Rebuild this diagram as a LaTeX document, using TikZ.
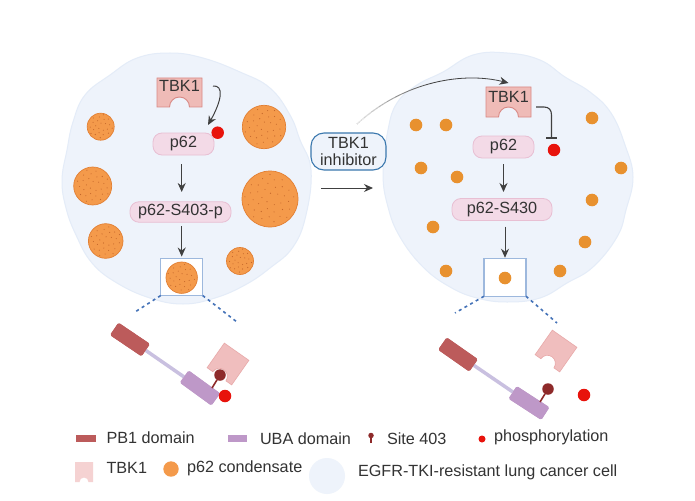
\documentclass[tikz,border=0pt]{standalone}
\usepackage{fontspec}
\setmainfont{Liberation Sans}
\usetikzlibrary{arrows.meta,calc}
\definecolor{cellfill}{HTML}{EEF3FB}
\definecolor{celledge}{HTML}{E4ECF8}
\definecolor{pillfill}{HTML}{F3DAE7}
\definecolor{pilledge}{HTML}{E8BFD3}
\definecolor{kinfill}{HTML}{EFBBB7}
\definecolor{kinedge}{HTML}{D98A86}
\definecolor{kinpale}{HTML}{F0BEBE}
\definecolor{kinpaleedge}{HTML}{E8A9A9}
\definecolor{pbone}{HTML}{BC5B5B}
\definecolor{uba}{HTML}{BE98C8}
\definecolor{linker}{HTML}{C9C0E0}
\definecolor{condfill}{HTML}{F49A4B}
\definecolor{condedge}{HTML}{E27F33}
\definecolor{conddot}{HTML}{C4662A}
\definecolor{smallcond}{HTML}{E8912F}
\definecolor{boxedge}{HTML}{9DB8DD}
\definecolor{dashblue}{HTML}{4472B8}
\definecolor{inhedge}{HTML}{3B78AE}
\definecolor{reddot}{HTML}{E8130C}
\definecolor{site}{HTML}{8E2A2A}
\definecolor{ink}{HTML}{333333}
\definecolor{flow}{HTML}{404040}
\tikzset{
  x=1pt,y=-1pt,
  every node/.style={inner sep=0pt,outer sep=0pt,text=ink},
  txt/.style={font=\fontsize{16.2}{17.5}\selectfont},
  cellbody/.style={fill=cellfill,draw=celledge,line width=1pt},
  pill/.style={txt,rectangle,rounded corners=9pt,fill=pillfill,draw=pilledge,line width=.8pt},
  zoombox/.style={rectangle,fill=white,draw=boxedge,line width=1.1pt,minimum width=42pt,minimum height=37.5pt},
  flowarrow/.style={draw=flow,line width=1pt,-{Stealth[length=9pt,width=8pt]}},
  zoomline/.style={dashblue,line width=1.6pt,dash pattern=on 3pt off 3.5pt},
  kinase/.style={fill=kinfill,draw=kinedge,line width=.9pt},
  paleKinase/.style={fill=kinpale,draw=kinpaleedge,line width=.6pt},
  pbdomain/.style={rectangle,rounded corners=1.5pt,fill=pbone,minimum width=38pt,minimum height=15pt},
  ubdomain/.style={rectangle,rounded corners=1.5pt,fill=uba,minimum width=39pt,minimum height=15pt},
  linkerline/.style={linker,line width=3.5pt},
  stick/.style={site,line width=1.6pt},
  sitehead/.style={circle,fill=site,minimum size=11.5pt},
  phospho/.style={circle,fill=reddot,minimum size=12.5pt},
  tinycond/.style={circle,fill=smallcond,minimum size=12.6pt},
  bigcond/.style={circle,fill=condfill,draw=condedge,line width=.7pt},
  declare function={
    bx(\t)=(1-\t)^3*357+3*(1-\t)^2*\t*405+3*(1-\t)*\t^2*465+\t^3*510;
    by(\t)=(1-\t)^3*124+3*(1-\t)^2*\t*80+3*(1-\t)*\t^2*72+\t^3*83;
  }
}
% kinase outline centred on the origin: width, height, notch radius
\newcommand{\kinasepath}[3]{%
  (-#1/2,-#2/2) -- (#1/2,-#2/2) -- (#1/2,#2/2) -- (#3+1,#2/2)
  arc[start angle=0,end angle=-180,radius=#3+1] -- (-#1/2,#2/2) -- cycle}
% stippled condensate droplet: name, x, y, radius
\newcommand{\droplet}[4]{%
  \node[bigcond,minimum size=#4*2pt] (#1) at (#2,#3) {};
  \pgfmathtruncatemacro{\ndots}{#4+10}
  \foreach \i in {1,...,\ndots}{
    \fill[conddot] ($(#1)+({137.5*\i}:{0.9*#4*sqrt(\i/\ndots)})$) circle[radius=.55];
  }}
\begin{document}
\begin{tikzpicture}
\useasboundingbox (0,0) rectangle (695,500);
\fill[white] (0,0) rectangle (695,500);

% cell outlines
\draw[cellbody] plot[smooth cycle,tension=.7] coordinates {
  (137,58) (170,53) (203,58) (240,72) (270,88) (290,115) (300,140) (311,170)
  (306,215) (293,247) (270,268) (245,285) (215,298) (183,304) (150,298)
  (117,283) (92,263) (76,235) (66,208) (62,180) (67,150) (73,122) (85,95) (110,75)};
\draw[cellbody] plot[smooth cycle,tension=.7] coordinates {
  (473,55) (443,72) (417,85) (397,103) (388,130) (383,173) (388,207) (400,237)
  (423,267) (450,287) (477,298) (507,302) (540,298) (567,283) (593,267) (617,237)
  (626,210) (633,177) (625,145) (611,113) (590,92) (565,77) (540,60) (507,53)};

% condensates, left cell
\droplet{dropA}{100.7}{126.7}{13.5}
\droplet{dropB}{264}{127}{21.7}
\droplet{dropC}{92.7}{186}{19}
\droplet{dropD}{270}{199}{28}
\droplet{dropE}{105.7}{241}{17.3}
\droplet{dropF}{240}{261}{13.5}

% condensates, right cell
\foreach \nm/\px/\py in {a/416/125,b/446/125,c/592/118,d/421/168,e/457/177,f/621/168,
  g/592/200,h/433/227,i/585/242,j/446/271,k/560/271}{
  \node[tinycond] (small\nm) at (\px,\py) {};
}

% left pathway
\begin{scope}[shift={(179.5,92.5)}]
  \draw[kinase] \kinasepath{45}{29}{9};
\end{scope}
\node[minimum width=45pt,minimum height=29pt] (tbkL) at (179.5,92.5) {};
\node[txt] (tbkLtext) at (179.5,86) {TBK1};
\node[pill,minimum width=61pt,minimum height=22pt] (pL) at (183.5,144) {p62};
\node[pill,minimum width=101pt,minimum height=20.5pt] (sL) at (180.5,212) {p62-S403-p};
\node[zoombox] (boxL) at (181.7,276.8) {};
\droplet{dropG}{181.7}{277.7}{15.7}
\node[phospho] (phL) at (217.7,132.7) {};
\coordinate (curlL) at (213,86);
\coordinate (curlEnd) at (208,125);
\draw[flowarrow] (curlL) .. controls (224,85) and (222,100) .. (curlEnd);
\draw[flowarrow] ([yshift=-9pt]boxL.north |- pL.south) -- ([yshift=-37pt]boxL.north |- pL.south);
\draw[flowarrow] ([yshift=-4pt]boxL.north |- sL.south) -- ([yshift=1.5pt]boxL.north);
\coordinate (zlA) at (135,312);
\coordinate (zlB) at (237,322);
\draw[zoomline] (boxL.south west) -- (zlA);
\draw[zoomline] (boxL.south east) -- (zlB);

% inhibitor and central arrow
\node[txt,rectangle,align=center,rounded corners=13pt,fill=cellfill,draw=inhedge,line width=1.1pt,
  minimum width=75pt,minimum height=37pt] (inh) at (348.5,151.5) {TBK1\\inhibitor};
\coordinate (mainA) at (321,188);
\coordinate (mainB) at (373,188);
\draw[flowarrow] (mainA) -- (mainB);

% right pathway
\begin{scope}[shift={(508.5,102)}]
  \draw[kinase] \kinasepath{45}{30}{9};
\end{scope}
\node[minimum width=45pt,minimum height=30pt] (tbkR) at (508.5,102) {};
\node[txt] (tbkRtext) at (508.5,97) {TBK1};
\node[pill,minimum width=61pt,minimum height=22pt] (pR) at (503.5,147) {p62};
\node[pill,minimum width=100pt,minimum height=22pt] (sR) at (502,209.5) {p62-S430};
\node[zoombox] (boxR) at (505,277.5) {};
\node[tinycond] (dropR) at (505,278) {};
\node[phospho] (phR) at (554,150) {};

% inhibitor effect: curve fades out towards the inhibitor
\coordinate (inhOut) at (357,124);
\draw[flowarrow,line width=.8pt] (inhOut) .. controls (405,80) and (465,72) .. ([yshift=4pt]tbkR.north);
\foreach \a/\b/\o in {0/.05/.85,.05/.1/.78,.1/.15/.7,.15/.2/.6,.2/.25/.5,.25/.3/.4,.3/.35/.3,.35/.4/.2,.4/.45/.1}{
  \draw[white,opacity=\o,line width=1.4pt] plot[domain=\a:\b,samples=4,variable=\t] ({bx(\t)},{by(\t)});
}
\coordinate (barL) at (546,138);
\coordinate (barR) at (557,138);
\coordinate (barTop) at (551.5,138);
\coordinate (inhFrom) at (536,107);
\draw[flow,line width=1.1pt] (inhFrom) -- (544,107) .. controls (549,107) and (551.5,110) .. (551.5,115) -- (barTop);
\draw[flow,line width=1.1pt] (barL) -- (barR);
\draw[flowarrow] ([yshift=-6pt]pR.south) -- ([yshift=-34pt]pR.south);
\draw[flowarrow] ([yshift=-6pt]boxR.north |- sR.south) -- ([yshift=1pt]boxR.north);
\coordinate (zrA) at (455,313);
\coordinate (zrB) at (557,323);
\draw[zoomline] (boxR.south west) -- (zrA);
\draw[zoomline] (boxR.south east) -- (zrB);

% p62 bound to the kinase
\begin{scope}[shift={(228,364)},rotate=-35]
  \draw[paleKinase] \kinasepath{30}{30}{7};
\end{scope}
\node[pbdomain,rotate=-34] (pbL) at (130,339.5) {};
\node[ubdomain,rotate=-36] (ubL) at (200,388) {};
\draw[linkerline] (pbL) -- (ubL);
\node[pbdomain,rotate=-34] at (130,339.5) {};
\node[ubdomain,rotate=-36] at (200,388) {};
\node[sitehead] (headL) at (220,375) {};
\coordinate (stemL) at (212,388);
\draw[stick] (stemL) -- (headL);
\node[phospho] (ppL) at (225,396) {};

% p62 released from the kinase
\begin{scope}[shift={(556,351)},rotate=-35]
  \draw[paleKinase] \kinasepath{30}{30}{7};
\end{scope}
\node[pbdomain,rotate=-35] (pbR) at (458,354.5) {};
\node[ubdomain,rotate=-33] (ubR) at (529,403) {};
\draw[linkerline] (pbR) -- (ubR);
\node[pbdomain,rotate=-35] at (458,354.5) {};
\node[ubdomain,rotate=-33] at (529,403) {};
\node[sitehead] (headR) at (548,389) {};
\coordinate (stemR) at (540,402);
\draw[stick] (stemR) -- (headR);
\node[phospho] (ppR) at (584,395) {};

% legend
\node[rectangle,fill=pbone,minimum width=20pt,minimum height=7pt] (legPB) at (86,438.5) {};
\node[txt,anchor=west] (legPBt) at (106.5,437.5) {PB1 domain};
\node[rectangle,fill=uba,minimum width=19pt,minimum height=7pt] (legUB) at (237.5,438.5) {};
\node[txt,anchor=west] (legUBt) at (260,438.5) {UBA domain};
\node[circle,fill=site,minimum size=5.5pt] (legHead) at (371,435.5) {};
\coordinate (legStem) at (371,443);
\draw[site,line width=1.2pt] (legStem) -- (legHead);
\node[txt,anchor=west] (legSite) at (387,439) {Site 403};
\node[circle,fill=reddot,minimum size=7pt] (legPh) at (482,439) {};
\node[txt,anchor=west] (legPht) at (494,437) {phosphorylation};
\begin{scope}[shift={(84,472)}]
  \fill[kinpale!70!white] (-9,-10) -- (9,-10) -- (9,10) -- (4.5,10)
    arc[start angle=0,end angle=-180,radius=4.5] -- (-9,10) -- cycle;
\end{scope}
\node[txt,anchor=west] (legK) at (106.5,468) {TBK1};
\node[circle,fill=condfill,minimum size=15.4pt] (legC) at (171,469) {};
\node[txt,anchor=west] (legCt) at (187,468) {p62 condensate};
\node[circle,fill=cellfill,minimum size=36pt] (legCell) at (327,476) {};
\node[txt,anchor=west] (legCellt) at (358,472) {EGFR-TKI-resistant lung cancer cell};
\end{tikzpicture}
\end{document}
